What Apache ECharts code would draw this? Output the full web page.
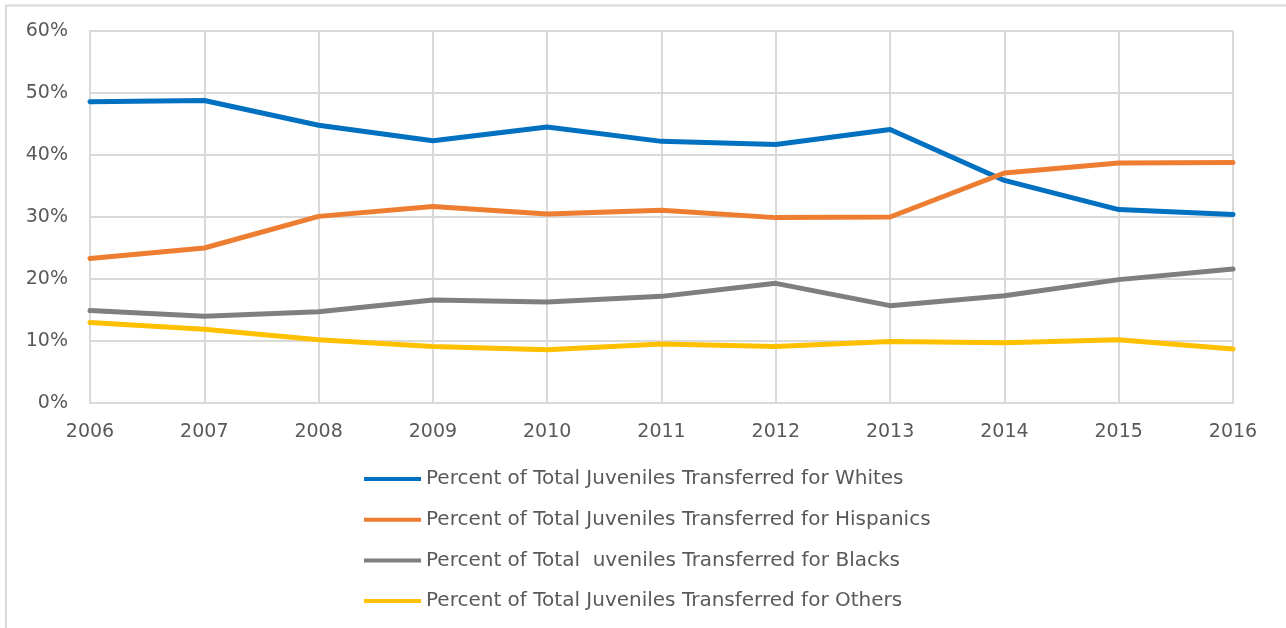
<!DOCTYPE html>
<html>
<head>
<meta charset="utf-8">
<script src="https://cdn.jsdelivr.net/npm/echarts@6/dist/echarts.min.js"></script>
<style>
  html, body { margin: 0; padding: 0; background: #fff; }
  #chart { width: 1286px; height: 628px; }
</style>
</head>
<body>
<div id="chart"></div>
<script>
// data (percent)
const years = ['2006', '2007', '2008', '2009', '2010', '2011', '2012', '2013', '2014', '2015', '2016']
const whites = [48.6, 48.8, 44.8, 42.3, 44.5, 42.2, 41.7, 44.1, 35.9, 31.2, 30.4]
const hispanics = [23.3, 25.0, 30.1, 31.7, 30.5, 31.1, 29.9, 30.0, 37.1, 38.7, 38.8]
const blacks = [14.9, 14.0, 14.7, 16.6, 16.3, 17.2, 19.3, 15.7, 17.3, 19.9, 21.6]
const others = [13.0, 11.9, 10.2, 9.1, 8.6, 9.5, 9.1, 9.9, 9.7, 10.2, 8.7]

const seriesNames = [
  'Percent of Total Juveniles Transferred for Whites',
  'Percent of Total Juveniles Transferred for Hispanics',
  'Percent of Total  uveniles Transferred for Blacks',
  'Percent of Total Juveniles Transferred for Others'
]
const colors = ['#0070c0', '#ed7d31', '#7f7f7f', '#ffc000']

const font = '"DejaVu Sans", sans-serif'
const gridColor = '#d9d9d9'
const textColor = '#595959'

const chart = echarts.init(document.getElementById('chart'))

const makeLine = (name, data, color) => ({
  name,
  type: 'line',
  data,
  symbol: 'none',
  lineStyle: { width: 5, color, cap: 'round', join: 'round' },
  itemStyle: { color }
})

chart.setOption({
  animation: false,
  color: colors,
  textStyle: { fontFamily: font },
  // outer chart frame (top and left edges visible)
  graphic: [
    {
      type: 'polyline',
      shape: { points: [[6, 640], [6, 5.5], [1290, 5.5]] },
      style: { stroke: gridColor, lineWidth: 2, fill: null }
    }
  ],
  grid: { left: 90, right: 53, top: 31, bottom: 225 },
  legend: {
    orient: 'vertical',
    left: 364,
    top: 469,
    padding: 0,
    itemWidth: 57,
    itemHeight: 4,
    itemGap: 20.7,
    icon: 'rect',
    textStyle: { color: textColor, fontSize: 20, lineHeight: 20, fontFamily: font },
    data: seriesNames
  },
  xAxis: {
    type: 'category',
    data: years,
    boundaryGap: false,
    axisLine: { lineStyle: { color: gridColor, width: 2 } },
    axisTick: { show: false },
    axisLabel: { color: textColor, fontSize: 19, margin: 20, fontFamily: font },
    splitLine: { show: true, lineStyle: { color: gridColor, width: 2 } }
  },
  yAxis: {
    type: 'value',
    min: 0,
    max: 60,
    interval: 10,
    axisLine: { show: true, lineStyle: { color: gridColor, width: 2 } },
    axisTick: { show: false },
    axisLabel: { color: textColor, fontSize: 19, margin: 22, fontFamily: font, formatter: '{value}%' },
    splitLine: { show: true, lineStyle: { color: gridColor, width: 2 } }
  },
  series: [
    makeLine(seriesNames[0], whites, colors[0]),
    makeLine(seriesNames[1], hispanics, colors[1]),
    makeLine(seriesNames[2], blacks, colors[2]),
    makeLine(seriesNames[3], others, colors[3])
  ]
})
</script>
</body>
</html>
